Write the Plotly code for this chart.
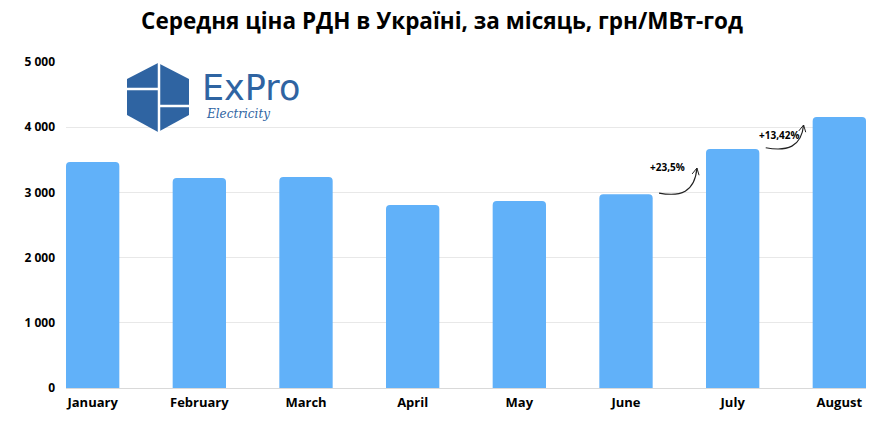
import plotly.graph_objects as go

months = ["January", "February", "March", "April", "May", "June", "July", "August"]
prices = [3466, 3220, 3236, 2807, 2868, 2970, 3665, 4156]
y_ticks = [0, 1000, 2000, 3000, 4000, 5000]
y_tick_labels = ["0", "1 000", "2 000", "3 000", "4 000", "5 000"]
growth_labels = ["+23,5%", "+13,42%"]

W, H = 892, 424
L, R, T, B = 66, 26, 62, 36
PW, PH = W - L - R, H - T - B

def px(x):
    return (x - L) / PW

def py(y):
    return (H - B - y) / PH

BAR = "#61B1F9"
LOGO = "#2F64A2"

fig = go.Figure(go.Bar(
    x=months, y=prices, marker=dict(color=BAR, cornerradius=4, line=dict(width=0)),
    width=0.5, hoverinfo="x+y"))

shapes = []
# logo hexagon
hexpts = [(158, 63), (189, 79), (189, 115), (158, 132), (127, 115), (127, 79)]
path = "M " + " L ".join(f"{px(a):.5f},{py(b):.5f}" for a, b in hexpts) + " Z"
shapes.append(dict(type="path", xref="paper", yref="paper", path=path,
                   fillcolor=LOGO, line=dict(width=0), layer="above"))
for (x0, y0, x1, y1) in [(159, 62, 159, 133), (126, 89, 159, 89), (159, 106, 190, 106)]:
    shapes.append(dict(type="line", xref="paper", yref="paper",
                       x0=px(x0), y0=py(y0), x1=px(x1), y1=py(y1),
                       line=dict(color="white", width=2.5), layer="above"))

# curved growth arrows between bars (data coords, category index)
annotations = []
arrow_specs = [
    (6, prices[5], 0.58, growth_labels[0], 0.61, 20),
    (7, prices[6], 0.75, growth_labels[1], 0.57, -150),
]
for idx, vprev, frac, lab, lx, dy in arrow_specs:
    vcur = prices[idx]
    x0, y0 = idx - 0.69, vprev + 20
    x1, y1 = idx - 0.335, vprev + frac * (vcur - vprev)
    cx1, cy1 = x0 + 0.2, y0 - 60
    cx2, cy2 = x1 - 0.02, y0 + 10
    shapes.append(dict(type="path", xref="x", yref="y",
                       path=f"M {x0},{y0} C {cx1},{cy1} {cx2},{cy2} {x1},{y1}",
                       line=dict(color="#222", width=1.2), layer="above"))
    shapes.append(dict(type="path", xref="x", yref="y",
                       path=f"M {x1-0.045},{y1-90} L {x1},{y1} L {x1+0.02},{y1-110}",
                       line=dict(color="#222", width=1), layer="above"))
    annotations.append(dict(x=idx - lx, y=y1 + dy, xref="x", yref="y",
                            text=f"<b>{lab}</b>", showarrow=False,
                            font=dict(family="Open Sans", size=10, color="black")))

annotations.append(dict(x=px(201), y=py(88), xref="paper", yref="paper", xanchor="left",
                        yanchor="middle", text="ExPro", showarrow=False, borderpad=0,
                        font=dict(family="DejaVu Sans", size=35, color=LOGO)))
annotations.append(dict(x=px(205), y=py(114), xref="paper", yref="paper", xanchor="left",
                        yanchor="middle", text="<i>Electricity</i>", showarrow=False,
                        borderpad=0,
                        font=dict(family="DejaVu Serif", size=12, color=LOGO)))

fig.update_layout(
    width=W, height=H,
    margin=dict(l=L, r=R, t=T, b=B),
    paper_bgcolor="white", plot_bgcolor="white",
    title=dict(text="<b>Середня ціна РДН в Україні, за місяць, грн/МВт-год</b>",
               x=442 / W, xref="container", xanchor="center",
               y=1 - 21 / H, yref="container", yanchor="middle",
               font=dict(family="Open Sans", size=22.5, color="black")),
    xaxis=dict(range=[-0.25, 7.25], showgrid=False, showline=True,
               linecolor="#d9d9d9", linewidth=1, ticks="",
               tickfont=dict(family="Open Sans", size=13, color="black", weight="bold"),
               ticklabelstandoff=2),
    yaxis=dict(range=[0, 5000], tickvals=y_ticks, ticktext=y_tick_labels,
               showgrid=True, gridcolor="#e8e8e8", gridwidth=1, zeroline=False,
               ticks="", ticklabelstandoff=10,
               tickfont=dict(family="Open Sans", size=12, color="black", weight="bold")),
    shapes=shapes, annotations=annotations,
    showlegend=False, bargap=0.5,
)

fig.write_html("out.html", config={"displayModeBar": False},
               post_script="document.body.style.margin='0';")
